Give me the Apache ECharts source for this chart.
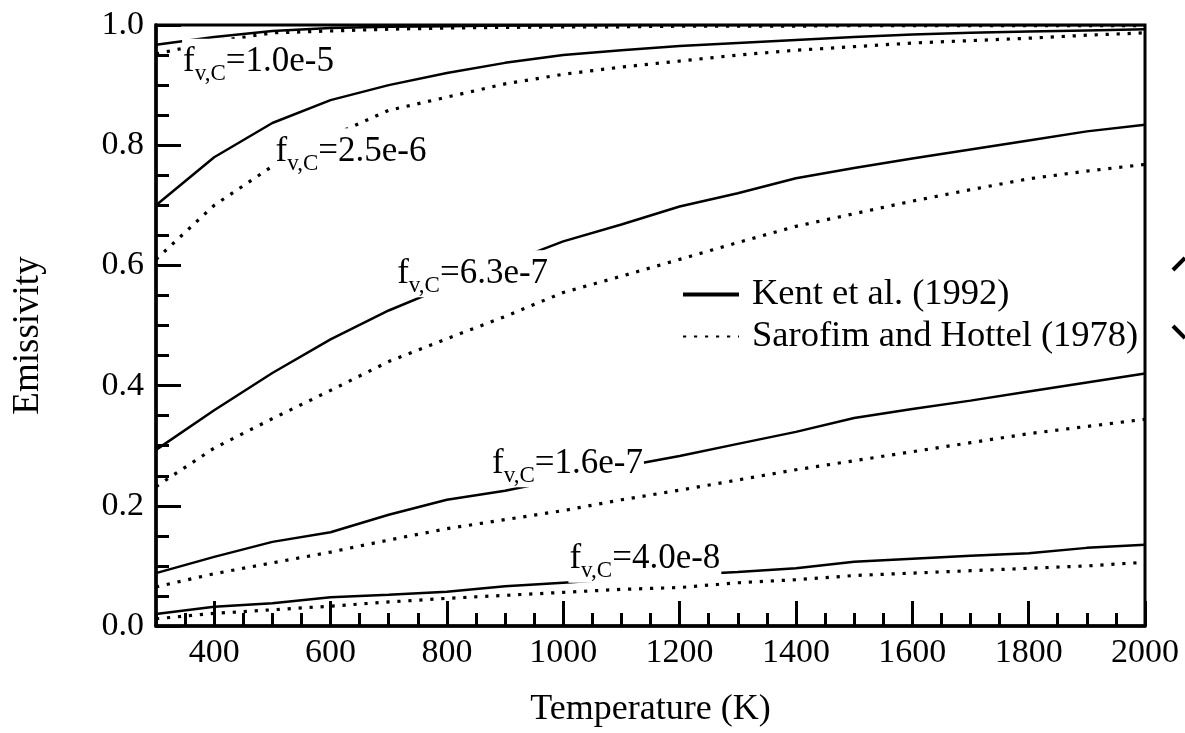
<!DOCTYPE html>
<html>
<head>
<meta charset="utf-8">
<script src="https://cdn.jsdelivr.net/npm/echarts@6.0.0/dist/echarts.min.js"></script>
<style>
  html, body { margin: 0; padding: 0; background: #fff; }
  #chart { width: 1185px; height: 733px; }
</style>
</head>
<body>
<div id="chart"></div>
<script>
// temperatures (K)
var temps = [300, 400, 500, 600, 700, 800, 900, 1000, 1100, 1200, 1300, 1400, 1500, 1600, 1700, 1800, 1900, 2000];

// Kent et al. (1992) - solid
var kent_10e5 = [0.967, 0.980, 0.990, 0.995, 0.997, 0.998, 0.999, 0.999, 1.0, 1.0, 1.0, 1.0, 1.0, 1.0, 1.0, 1.0, 1.0, 1.0];
var kent_25e6 = [0.700, 0.780, 0.837, 0.875, 0.900, 0.920, 0.937, 0.950, 0.958, 0.965, 0.970, 0.975, 0.980, 0.984, 0.987, 0.989, 0.991, 0.993];
var kent_63e7 = [0.293, 0.359, 0.421, 0.477, 0.525, 0.565, 0.603, 0.640, 0.668, 0.698, 0.720, 0.745, 0.762, 0.778, 0.793, 0.808, 0.823, 0.834];
var kent_16e7 = [0.088, 0.115, 0.140, 0.156, 0.185, 0.210, 0.225, 0.245, 0.265, 0.283, 0.303, 0.323, 0.346, 0.361, 0.375, 0.390, 0.405, 0.420];
var kent_40e8 = [0.020, 0.032, 0.038, 0.048, 0.052, 0.057, 0.066, 0.072, 0.078, 0.085, 0.090, 0.096, 0.107, 0.112, 0.117, 0.121, 0.130, 0.135];

// Sarofim and Hottel (1978) - dotted
var saro_10e5 = [0.952, 0.972, 0.987, 0.990, 0.993, 0.995, 0.996, 0.997, 0.997, 0.998, 0.998, 0.998, 0.999, 0.999, 0.999, 0.999, 0.999, 0.999];
var saro_25e6 = [0.610, 0.700, 0.765, 0.815, 0.858, 0.880, 0.902, 0.918, 0.930, 0.940, 0.950, 0.958, 0.964, 0.970, 0.974, 0.978, 0.983, 0.987];
var saro_63e7 = [0.232, 0.296, 0.345, 0.392, 0.440, 0.478, 0.515, 0.555, 0.582, 0.610, 0.638, 0.665, 0.686, 0.707, 0.726, 0.744, 0.757, 0.768];
var saro_16e7 = [0.065, 0.087, 0.105, 0.123, 0.143, 0.162, 0.177, 0.192, 0.210, 0.226, 0.243, 0.260, 0.275, 0.290, 0.305, 0.320, 0.332, 0.344];
var saro_40e8 = [0.012, 0.021, 0.027, 0.033, 0.040, 0.046, 0.051, 0.056, 0.061, 0.064, 0.072, 0.077, 0.084, 0.088, 0.092, 0.096, 0.100, 0.106];

// curve labels (f_v,C values) and where they sit, in data units
var curveLabels = ['1.0e-5', '2.5e-6', '6.3e-7', '1.6e-7', '4.0e-8'];
var labelT = [344, 503, 712, 875, 1008];
var labelE = [0.938, 0.789, 0.586, 0.270, 0.111];

var xTickLabels = [400, 600, 800, 1000, 1200, 1400, 1600, 1800, 2000];

var KENT = 'Kent et al. (1992)';
var SARO = 'Sarofim and Hottel (1978)';
var FONT = '"Liberation Serif", "Times New Roman", serif';

function pairs(ys) {
  return temps.map(function (t, i) { return [t, ys[i]]; });
}

function kentSeries(ys) {
  return {
    name: KENT, type: 'line', data: pairs(ys), symbol: 'none', silent: true,
    lineStyle: { color: '#000', width: 2.5, type: 'solid' }, itemStyle: { color: '#000' }
  };
}
function saroSeries(ys) {
  return {
    name: SARO, type: 'line', data: pairs(ys), symbol: 'none', silent: true,
    lineStyle: { color: '#000', width: 3.2, type: [3.2, 7.8] }, itemStyle: { color: '#000' }
  };
}

var chartDom = document.getElementById('chart');
var myChart = echarts.init(chartDom);
var option;

option = {
  animation: false,
  backgroundColor: '#fff',
  textStyle: { fontFamily: FONT, color: '#000' },
  grid: {
    left: 156, right: 40, top: 25, bottom: 107,
    show: true, borderColor: '#000', borderWidth: 3
  },
  legend: {
    orient: 'vertical',
    left: 676, top: 271,
    itemWidth: 56, itemHeight: 14, itemGap: 5,
    data: [
      { name: KENT, lineStyle: { width: 4 } },
      { name: SARO }
    ],
    itemStyle: { opacity: 0 },
    textStyle: { fontFamily: FONT, fontSize: 36.5, color: '#000', padding: [0, 0, 0, 8] }
  },
  xAxis: [
    {
      type: 'value', min: 300, max: 2000, interval: 50,
      name: 'Temperature (K)', nameLocation: 'middle', nameGap: 66,
      nameTextStyle: { fontFamily: FONT, fontSize: 36, color: '#000' },
      axisLine: { show: true, lineStyle: { color: '#000', width: 3.5 } },
      axisTick: { show: true, inside: true, length: 13, lineStyle: { color: '#000', width: 3 } },
      axisLabel: { show: false },
      splitLine: { show: false }
    },
    {
      type: 'value', min: 300, max: 2000, interval: 50, position: 'bottom',
      axisLine: { show: false },
      axisTick: { show: true, inside: true, length: 25, customValues: xTickLabels, lineStyle: { color: '#000', width: 3 } },
      axisLabel: {
        show: true, customValues: xTickLabels, margin: 10, fontFamily: FONT, fontSize: 34, color: '#000',
        formatter: function (v) { return String(v); }
      },
      splitLine: { show: false }
    }
  ],
  yAxis: {
    type: 'value', min: 0, max: 1, interval: 0.2,
    name: 'Emissivity', nameLocation: 'middle', nameRotate: 90, nameGap: 109,
    nameTextStyle: { fontFamily: FONT, fontSize: 37, color: '#000', padding: [0, 20, 0, 0] },
    axisLine: { show: true, lineStyle: { color: '#000', width: 3.5 } },
    axisTick: { show: true, inside: true, length: 25, lineStyle: { color: '#000', width: 3 } },
    minorTick: { show: true, splitNumber: 4, length: 13, lineStyle: { color: '#000', width: 3 } },
    axisLabel: {
      margin: 12, fontFamily: FONT, fontSize: 34, color: '#000',
      formatter: function (v) { return v.toFixed(1); }
    },
    splitLine: { show: false },
    minorSplitLine: { show: false }
  },
  series: [
    kentSeries(kent_10e5), saroSeries(saro_10e5),
    kentSeries(kent_25e6), saroSeries(saro_25e6),
    kentSeries(kent_63e7), saroSeries(saro_63e7),
    kentSeries(kent_16e7), saroSeries(saro_16e7),
    kentSeries(kent_40e8), saroSeries(saro_40e8),
    {
      //曲线标注
      name: 'labels', type: 'scatter', silent: true, z: 10,
      symbolSize: 1, itemStyle: { color: 'rgba(0,0,0,0)', opacity: 1 },
      data: curveLabels.map(function (s, i) {
        return { value: [labelT[i], labelE[i]], name: s };
      }),
      label: {
        show: true, position: 'right', distance: 0, opacity: 1,
        backgroundColor: '#fff', padding: [0, 1, 0, 1],
        formatter: function (p) { return '{f|f}{sub|v,C}{m|=' + p.name + '}'; },
        rich: {
          f: { fontFamily: FONT, fontSize: 35, color: '#000' },
          sub: { fontFamily: FONT, fontSize: 23, color: '#000', padding: [24, 0, 0, 0] },
          m: { fontFamily: FONT, fontSize: 35, color: '#000' }
        }
      }
    }
  ],
  graphic: [
    { type: 'line', shape: { x1: 1173, y1: 270, x2: 1185, y2: 258 }, style: { stroke: '#000', lineWidth: 4 } },
    { type: 'line', shape: { x1: 1173, y1: 326, x2: 1185, y2: 338 }, style: { stroke: '#000', lineWidth: 4 } }
  ]
};

option && myChart.setOption(option);
</script>
</body>
</html>
